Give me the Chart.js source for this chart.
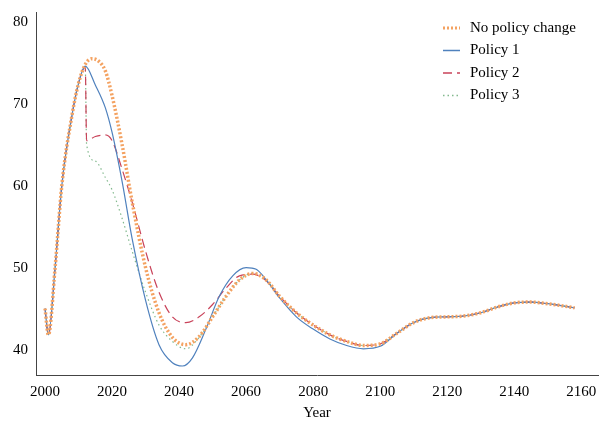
<!DOCTYPE html>
<html><head><meta charset="utf-8">
<script src="https://cdn.jsdelivr.net/npm/chart.js@4"></script>
<style>html,body{margin:0;background:#fff}#w{width:604px;height:427px}</style>
</head><body><div id="w"><canvas id="c"></canvas></div>
<script>
const seriesNames=["No policy change","Policy 1","Policy 2","Policy 3"];
const xTicks=[2000,2020,2040,2060,2080,2100,2120,2140,2160];
const yTicks=[40,50,60,70,80];
const common=[[2000,45],[2001,41.8],[2003,50],[2005,60],[2008,68.5],[2010,72.5]];
const tail=[[2105,42],[2110,43.3],[2115,43.9],[2120,44],[2125,44.1],[2130,44.5],[2135,45.2],[2140,45.7],[2145,45.8],[2150,45.6],[2155,45.3],[2158,45.1]];
const noPolicy=[[2012,74.8],[2014,75.5],[2016,75.2],[2018,74],[2020,71],[2023,65],[2026,58],[2030,50],[2034,44.5],[2038,41.5],[2042,40.6],[2046,41.6],[2050,44],[2054,46.5],[2058,48.5],[2062,49.3],[2066,48.5],[2070,46.5],[2075,44.5],[2080,43],[2085,41.8],[2090,41],[2095,40.5],[2100,40.7]];
const policy1=[[2012,74.6],[2015,72.3],[2018,69.5],[2020,66.5],[2023,60.5],[2026,53.5],[2030,46],[2034,40.6],[2038,38.4],[2041,38],[2044,39],[2048,42.5],[2052,46.5],[2056,49],[2060,50],[2063,49.8],[2066,48.5],[2070,46.3],[2075,44],[2080,42.5],[2085,41.3],[2090,40.5],[2095,40.1],[2100,40.4]];
const policy2=[[2012,74.5],[2012.4,65.5],[2015,66],[2018,66.2],[2020,65.5],[2023,62],[2026,58],[2030,52],[2034,47],[2038,44],[2042,43.3],[2046,44],[2050,45.5],[2054,47.5],[2058,49],[2062,49.2],[2066,48.4],[2070,46.5],[2075,44.5],[2080,43],[2085,41.8],[2090,41],[2095,40.5],[2100,40.7]];
const policy3=[[2012,74.5],[2012.4,65],[2015,63],[2018,61],[2020,59.5],[2023,56],[2026,52],[2030,47],[2034,43],[2038,41],[2042,40.1],[2046,41.5],[2050,44],[2054,46.5],[2058,48.5],[2062,49.3],[2066,48.5],[2070,46.5],[2075,44.5],[2080,43],[2085,41.8],[2090,41],[2095,40.5],[2100,40.7]];
const colors=["#f4a261","#4f81bd","#c9435a","#82b98d"];
const dashes=[[2,2],[],[9,5],[1.5,3]];
const widths=[3.5,1.2,1.2,1.2];
const all=[noPolicy,policy1,policy2,policy3];
const mk=a=>common.concat(a,tail).map(p=>({x:p[0],y:p[1]}));
const datasets=all.map((a,i)=>({label:seriesNames[i],data:mk(a),borderColor:colors[i],borderDash:dashes[i],borderWidth:widths[i],pointRadius:0,tension:0.4,cubicInterpolationMode:'monotone',fill:false}));
const legendPlugin={id:'lg',afterDraw(ch){const c=ch.ctx;c.save();c.font='15px "Liberation Serif"';c.textBaseline='middle';
seriesNames.forEach((n,i)=>{const y=28+i*22.5;c.strokeStyle=colors[i];c.lineWidth=i==0?3:1.5;c.setLineDash(dashes[i]);c.beginPath();c.moveTo(443,y);c.lineTo(460,y);c.stroke();c.setLineDash([]);c.fillStyle='#000';c.fillText(n,470,y);});c.restore();}};
new Chart(document.getElementById('c'),{type:'line',data:{datasets},plugins:[legendPlugin],
options:{responsive:true,maintainAspectRatio:false,animation:false,layout:{padding:{top:6,right:6,left:10,bottom:5}},
plugins:{legend:{display:false},tooltip:{enabled:false}},
scales:{x:{type:'linear',min:1997.3,max:2165,afterBuildTicks:s=>{s.ticks=xTicks.map(v=>({value:v}))},grid:{display:false,tickLength:5},border:{color:'#444'},ticks:{color:'#000',font:{family:'Liberation Serif',size:15},callback:v=>String(v)},title:{display:true,text:'Year',color:'#000',font:{family:'Liberation Serif',size:15},padding:0}},
y:{min:36.9,max:81.2,afterBuildTicks:s=>{s.ticks=yTicks.map(v=>({value:v}))},grid:{display:false,tickLength:5},border:{color:'#444'},ticks:{color:'#000',font:{family:'Liberation Serif',size:15}}}}}});
</script></body></html>
